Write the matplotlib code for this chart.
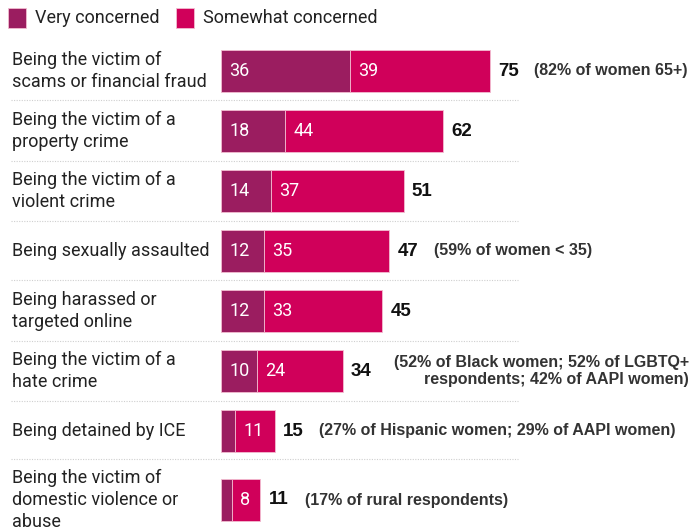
import matplotlib.pyplot as plt
from matplotlib.patches import Rectangle
from matplotlib.lines import Line2D
import matplotlib.transforms as mtransforms

# Data
labels = [
    'Being the victim of\nscams or financial fraud',
    'Being the victim of a\nproperty crime',
    'Being the victim of a\nviolent crime',
    'Being sexually assaulted',
    'Being harassed or\ntargeted online',
    'Being the victim of a\nhate crime',
    'Being detained by ICE',
    'Being the victim of\ndomestic violence or\nabuse',
]
very = [36, 18, 14, 12, 12, 10, 4, 3]
somewhat = [39, 44, 37, 35, 33, 24, 11, 8]
totals = [75, 62, 51, 47, 45, 34, 15, 11]
notes = [
    '(82% of women 65+)', '', '', '(59% of women < 35)', '',
    '(52% of Black women; 52% of LGBTQ+\nrespondents; 42% of AAPI women)',
    '(27% of Hispanic women; 29% of AAPI women)',
    '(17% of rural respondents)',
]

c_very = '#9b1d60'
c_some = '#d0005a'
edge = '#f2bcd0'

W, H = 698, 531
fig = plt.figure(figsize=(W / 100, H / 100), dpi=100)
x0 = 221
ppu = 3.58  # pixels per percentage point
ax = fig.add_axes([x0 / W, 0, (W - x0) / W, 1])
ax.set_xlim(0, (W - x0) / ppu)
ax.set_ylim(H, 0)
ax.axis('off')

# row centres in pixel units (layout)
ypos = [71, 131, 191, 251, 311, 371, 431, 500]
seps = [100, 161, 221, 280, 341, 401, 459]
bh = 41.5

ax.barh(ypos, very, height=bh, color=c_very, edgecolor=edge, linewidth=0.6)
ax.barh(ypos, somewhat, left=very, height=bh, color=c_some, edgecolor=edge, linewidth=0.6)

fs = 13
fx = mtransforms.blended_transform_factory(fig.transFigure, ax.transData)
for i, y in enumerate(ypos):
    ax.text(12 / W, y, labels[i], transform=fx, ha='left', va='center',
            fontsize=fs, family='Roboto', color='#222222', linespacing=1.3)
    if very[i] >= 8:
        ax.annotate(str(very[i]), (0, y), xytext=(6, 0), textcoords='offset points',
                    ha='left', va='center', color='white', fontsize=fs, family='Roboto')
    ax.annotate(str(somewhat[i]), (very[i], y), xytext=(6, 0), textcoords='offset points',
                ha='left', va='center', color='white', fontsize=fs, family='Roboto')
    ax.annotate(str(totals[i]), (totals[i], y), xytext=(6, 0), textcoords='offset points',
                ha='left', va='center', color='#111111', fontsize=13.5,
                family='Liberation Sans', fontweight='bold')
    if notes[i]:
        off = 37 if '\n' in notes[i] else 32
        ax.annotate(notes[i], (totals[i], y), xytext=(off, 0), textcoords='offset points',
                    ha='left', va='center', multialignment='right', color='#333333',
                    fontsize=11.5, family='Liberation Sans', fontweight='bold',
                    linespacing=1.2)

for s in seps:
    fig.add_artist(Line2D([11 / W, 518 / W], [1 - s / H, 1 - s / H],
                          color='#cfcfcf', lw=0.8, linestyle=(0, (1, 1.3))))

# legend
fig.add_artist(Rectangle((8 / W, 1 - 28 / H), 18 / W, 20 / H, transform=fig.transFigure,
                         facecolor=c_very, edgecolor=edge, lw=0.6))
fig.text(35 / W, 1 - 18 / H, 'Very concerned', ha='left', va='center',
         fontsize=fs, family='Roboto', color='#222222')
fig.add_artist(Rectangle((176 / W, 1 - 28 / H), 18 / W, 20 / H, transform=fig.transFigure,
                         facecolor=c_some, edgecolor=edge, lw=0.6))
fig.text(203 / W, 1 - 18 / H, 'Somewhat concerned', ha='left', va='center',
         fontsize=fs, family='Roboto', color='#222222')

fig.savefig('out.png', dpi=100)
